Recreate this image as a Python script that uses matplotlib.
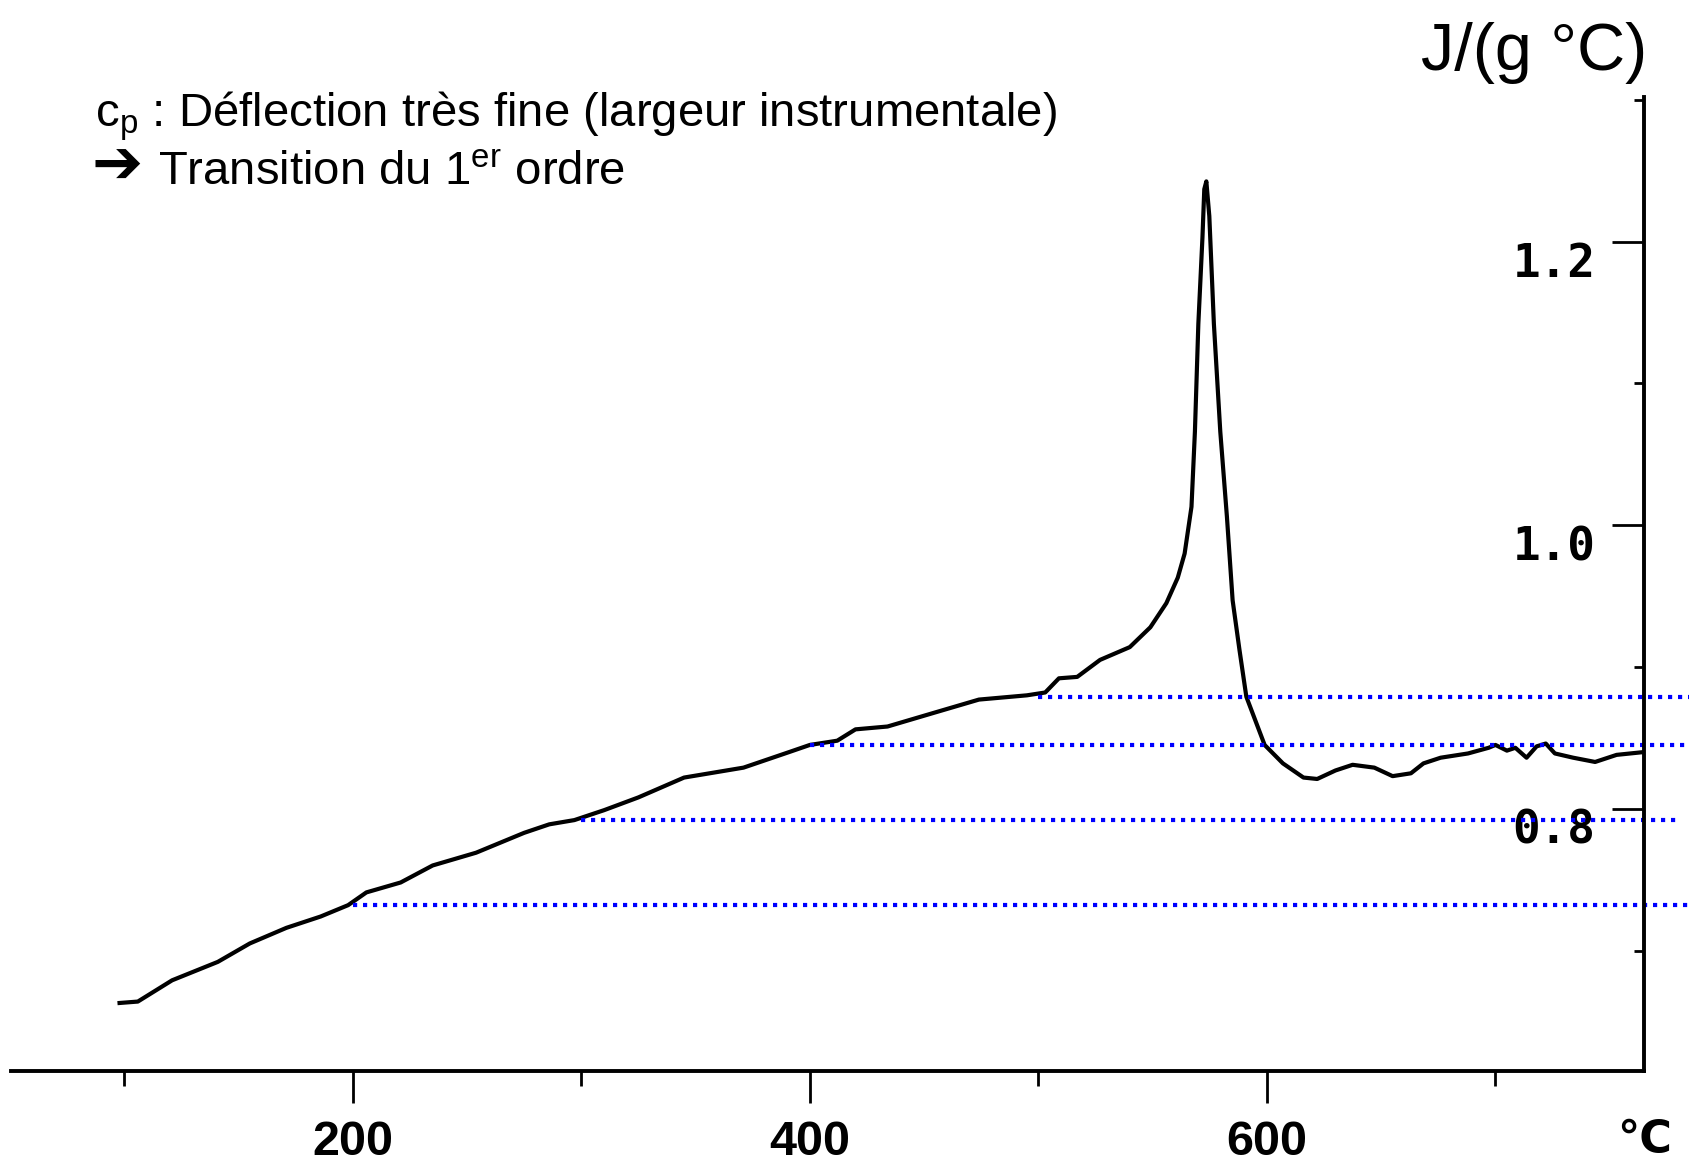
import numpy as np
import matplotlib
matplotlib.use("Agg")
import matplotlib.pyplot as plt
from matplotlib.ticker import FixedLocator

temp_c = [98, 106, 121, 141, 155, 171, 186, 198, 206, 221,
          235, 254, 275, 286, 297, 310, 325, 345, 371, 391,
          400, 412, 420, 434, 455, 474, 495, 503, 509, 517,
          527, 540, 549, 556, 561, 564, 567, 568.5, 570, 571.8,
          572.6, 573.5, 574.8, 576.8, 579.6, 582.5, 585, 588, 591, 595,
          599, 607, 616, 622, 630, 637.5, 647, 655, 663, 668.5,
          676, 688, 697, 700, 705, 708.7, 713.6, 718, 722, 726,
          734, 743.6, 753, 765]
cp_val = [0.663, 0.664, 0.679, 0.692, 0.705, 0.716, 0.724, 0.732, 0.741, 0.748,
          0.760, 0.769, 0.783, 0.789, 0.792, 0.799, 0.808, 0.822, 0.829, 0.840,
          0.845, 0.848, 0.856, 0.858, 0.868, 0.877, 0.880, 0.882, 0.892, 0.893,
          0.905, 0.914, 0.928, 0.945, 0.963, 0.980, 1.013, 1.066, 1.142, 1.203,
          1.237, 1.2425, 1.218, 1.142, 1.066, 1.006, 0.947, 0.912, 0.879, 0.862,
          0.845, 0.832, 0.822, 0.821, 0.827, 0.831, 0.829, 0.823, 0.825, 0.832,
          0.836, 0.839, 0.843, 0.845, 0.841, 0.843, 0.836, 0.844, 0.846, 0.839,
          0.836, 0.833, 0.838, 0.840]

# Lignes de repère horizontales (pointillés bleus)
ref_t0 = [200, 300, 400, 500]
ref_cp = [0.732, 0.792, 0.845, 0.879]
ref_t1 = [786, 779, 786, 786]

x_major = [200, 400, 600]
x_minor = [100, 300, 500, 700]
y_major = [0.8, 1.0, 1.2]
y_minor = [0.7, 0.9, 1.1, 1.3]
y_labels = ["1.2", "1.0", "0.8"]

fig = plt.figure(figsize=(16.9, 11.69), dpi=100)
ax = fig.add_axes([0.0065, 0.0838, 0.9663, 0.8332])
ax.set_xlim(50.5, 765)
ax.set_ylim(0.615, 1.302)

for s in ["top", "left"]:
    ax.spines[s].set_visible(False)
for s in ["bottom", "right"]:
    ax.spines[s].set_linewidth(2.8)
    ax.spines[s].set_color("black")

ax.plot(temp_c, cp_val, color="black", linewidth=3.0, solid_joinstyle="round")

for t0, c, t1 in zip(ref_t0, ref_cp, ref_t1):
    ax.plot([t0, t1], [c, c], color="#0000ff", linewidth=3.0,
            dashes=(1, 1.4), dash_capstyle="butt", clip_on=False)

# axe des x
ax.xaxis.set_major_locator(FixedLocator(x_major))
ax.xaxis.set_minor_locator(FixedLocator(x_minor))
ax.tick_params(axis="x", which="major", direction="out", length=23, width=2,
               pad=12, labelsize=35)
ax.tick_params(axis="x", which="minor", direction="out", length=11, width=2)
for lab in ax.get_xticklabels():
    lab.set_fontfamily(["Liberation Sans", "DejaVu Sans"])
    lab.set_fontweight("bold")
ax.annotate("℃", xy=(765, 0), xycoords=("data", "axes fraction"),
            xytext=(0, -34), textcoords="offset points", ha="center", va="top",
            fontsize=32, fontweight="bold", family=["DejaVu Sans"])

# axe des y (à droite, graduations vers l'intérieur)
ax.yaxis.tick_right()
ax.yaxis.set_major_locator(FixedLocator(y_major))
ax.yaxis.set_minor_locator(FixedLocator(y_minor))
ax.tick_params(axis="y", which="major", direction="in", length=23, width=2,
               pad=-35, labelsize=33, left=False, right=True,
               labelright=True, labelleft=False)
ax.tick_params(axis="y", which="minor", direction="in", length=7, width=2,
               left=False, right=True)
ax.set_yticklabels(y_labels[::-1])
for lab in ax.get_yticklabels():
    lab.set_horizontalalignment("right")
    lab.set_verticalalignment("top")
    lab.set_fontfamily(["DejaVu Sans Mono"])
    lab.set_fontweight("bold")

# textes
sans = ["Liberation Sans", "DejaVu Sans"]
fig.text(0.0562, 0.8914, r"$\mathregular{c_p}$ : Déflection très fine (largeur instrumentale)",
         fontsize=34, family=sans, va="baseline", ha="left")
fig.text(0.0540, 0.8426, "➔", fontsize=44, family=["DejaVu Sans"],
         va="baseline", ha="left", fontweight="bold")
fig.text(0.0935, 0.8426, r"Transition du $\mathregular{1^{er}}$ ordre",
         fontsize=34, family=sans, va="baseline", ha="left")
fig.text(0.9746, 0.940, "J/(g °C)", fontsize=48, family=sans,
         va="baseline", ha="right")

fig.savefig("out.png", dpi=100, facecolor="white")
